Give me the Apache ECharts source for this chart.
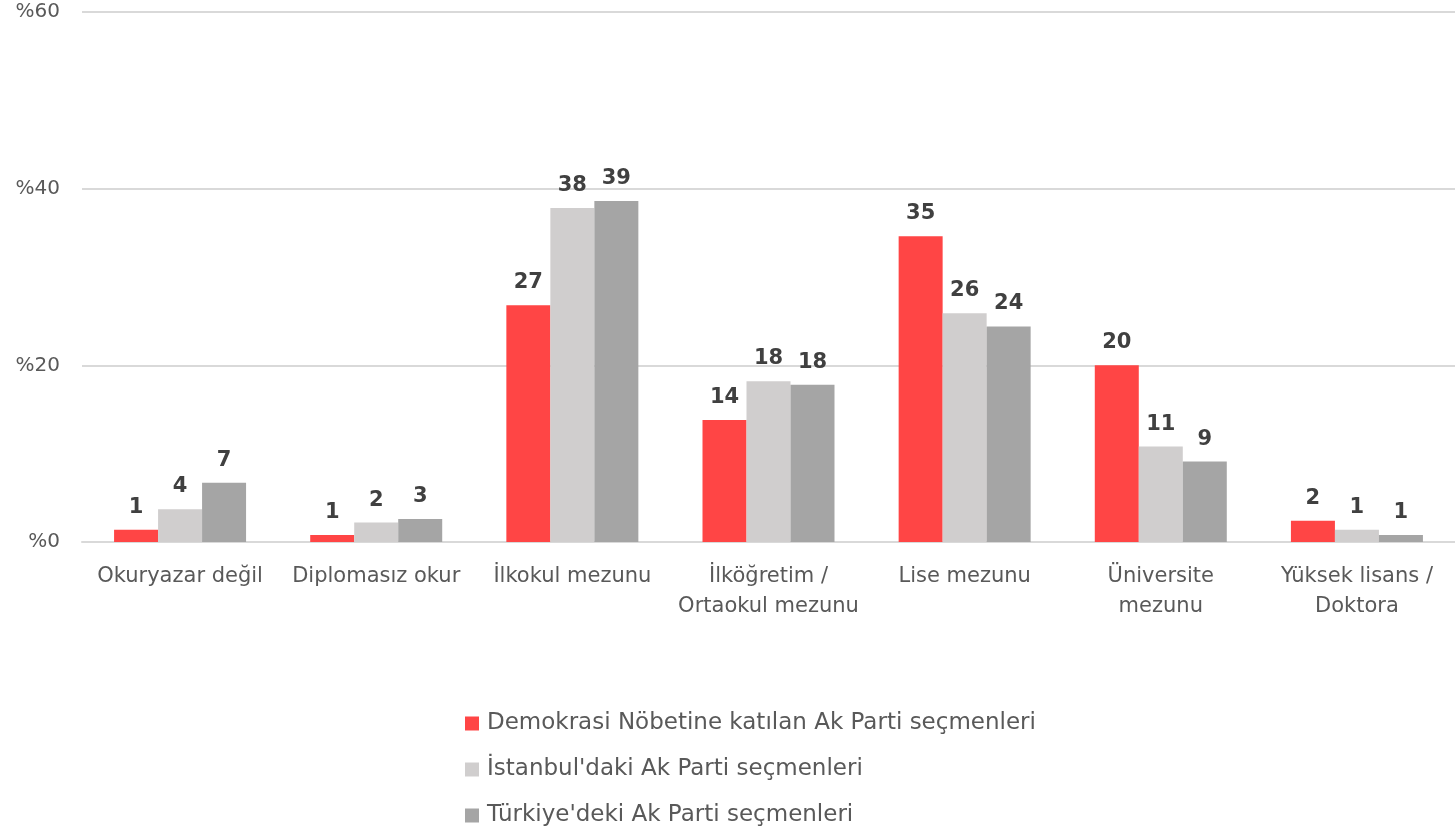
<!DOCTYPE html>
<html>
<head>
<meta charset="utf-8">
<script src="https://cdn.jsdelivr.net/npm/echarts@6/dist/echarts.min.js"></script>
<style>
  html, body { margin: 0; padding: 0; background: #fff; }
  #chart { width: 1455px; height: 832px; }
</style>
</head>
<body>
<div id="chart"></div>
<script>
// categories and series values (percent)
const categories = [
  "Okuryazar değil",
  "Diplomasız okur",
  "İlkokul mezunu",
  "İlköğretim /\nOrtaokul mezunu",
  "Lise mezunu",
  "Üniversite\nmezunu",
  "Yüksek lisans /\nDoktora",
];
const seriesNames = [
  "Demokrasi Nöbetine katılan Ak Parti seçmenleri",
  "İstanbul'daki Ak Parti seçmenleri",
  "Türkiye'deki Ak Parti seçmenleri",
];
const nobetValues = [1.4, 0.8, 26.8, 13.8, 34.6, 20.0, 2.4];
const istanbulValues = [3.7, 2.2, 37.8, 18.2, 25.9, 10.8, 1.4];
const turkiyeValues = [6.7, 2.6, 38.6, 17.8, 24.4, 9.1, 0.8];
const yTicks = [0, 20, 40, 60];

const colors = ["#FF4545", "#D0CECE", "#A5A5A5"];
const fontFamily = "'DejaVu Sans', 'Liberation Sans', sans-serif";

const chart = echarts.init(document.getElementById("chart"));

const labelStyle = {
  show: true,
  position: "top",
  distance: 12,
  color: "#404040",
  fontFamily: "'DejaVu Sans', sans-serif",
  fontWeight: "bold",
  fontSize: 21,
  formatter: (p) => Math.round(p.value),
};

function makeSeries(name, data, color) {
  return {
    name: name,
    type: "bar",
    data: data,
    barWidth: 44,
    barGap: "0%",
    itemStyle: { color: color },
    label: labelStyle,
  };
}

chart.setOption({
  animation: false,
  grid: { left: 82, right: 0, top: 12, bottom: 290, containLabel: false },
  legend: {
    orient: "vertical",
    left: 465,
    top: 712,
    height: 120,
    padding: 0,
    itemWidth: 14,
    itemHeight: 14,
    itemGap: 23,
    icon: "rect",
    textStyle: {
      color: "#595959",
      fontSize: 23,
      fontFamily: fontFamily,
      padding: [0, 0, 0, 3],
    },
    data: seriesNames,
  },
  xAxis: {
    type: "category",
    data: categories,
    axisTick: { show: false },
    axisLine: { lineStyle: { color: "#D9D9D9", width: 2 } },
    axisLabel: {
      color: "#595959",
      fontSize: 21,
      fontFamily: fontFamily,
      lineHeight: 30,
      margin: 20,
      interval: 0,
    },
  },
  yAxis: {
    type: "value",
    min: yTicks[0],
    max: yTicks[yTicks.length - 1],
    interval: 20,
    axisLine: { show: false },
    axisTick: { show: false },
    splitLine: { lineStyle: { color: "#D9D9D9", width: 2 } },
    axisLabel: {
      color: "#595959",
      fontSize: 20,
      fontFamily: fontFamily,
      margin: 22,
      formatter: (v) => "%" + v,
    },
  },
  series: [
    makeSeries(seriesNames[0], nobetValues, colors[0]),
    makeSeries(seriesNames[1], istanbulValues, colors[1]),
    makeSeries(seriesNames[2], turkiyeValues, colors[2]),
  ],
});
</script>
</body>
</html>
